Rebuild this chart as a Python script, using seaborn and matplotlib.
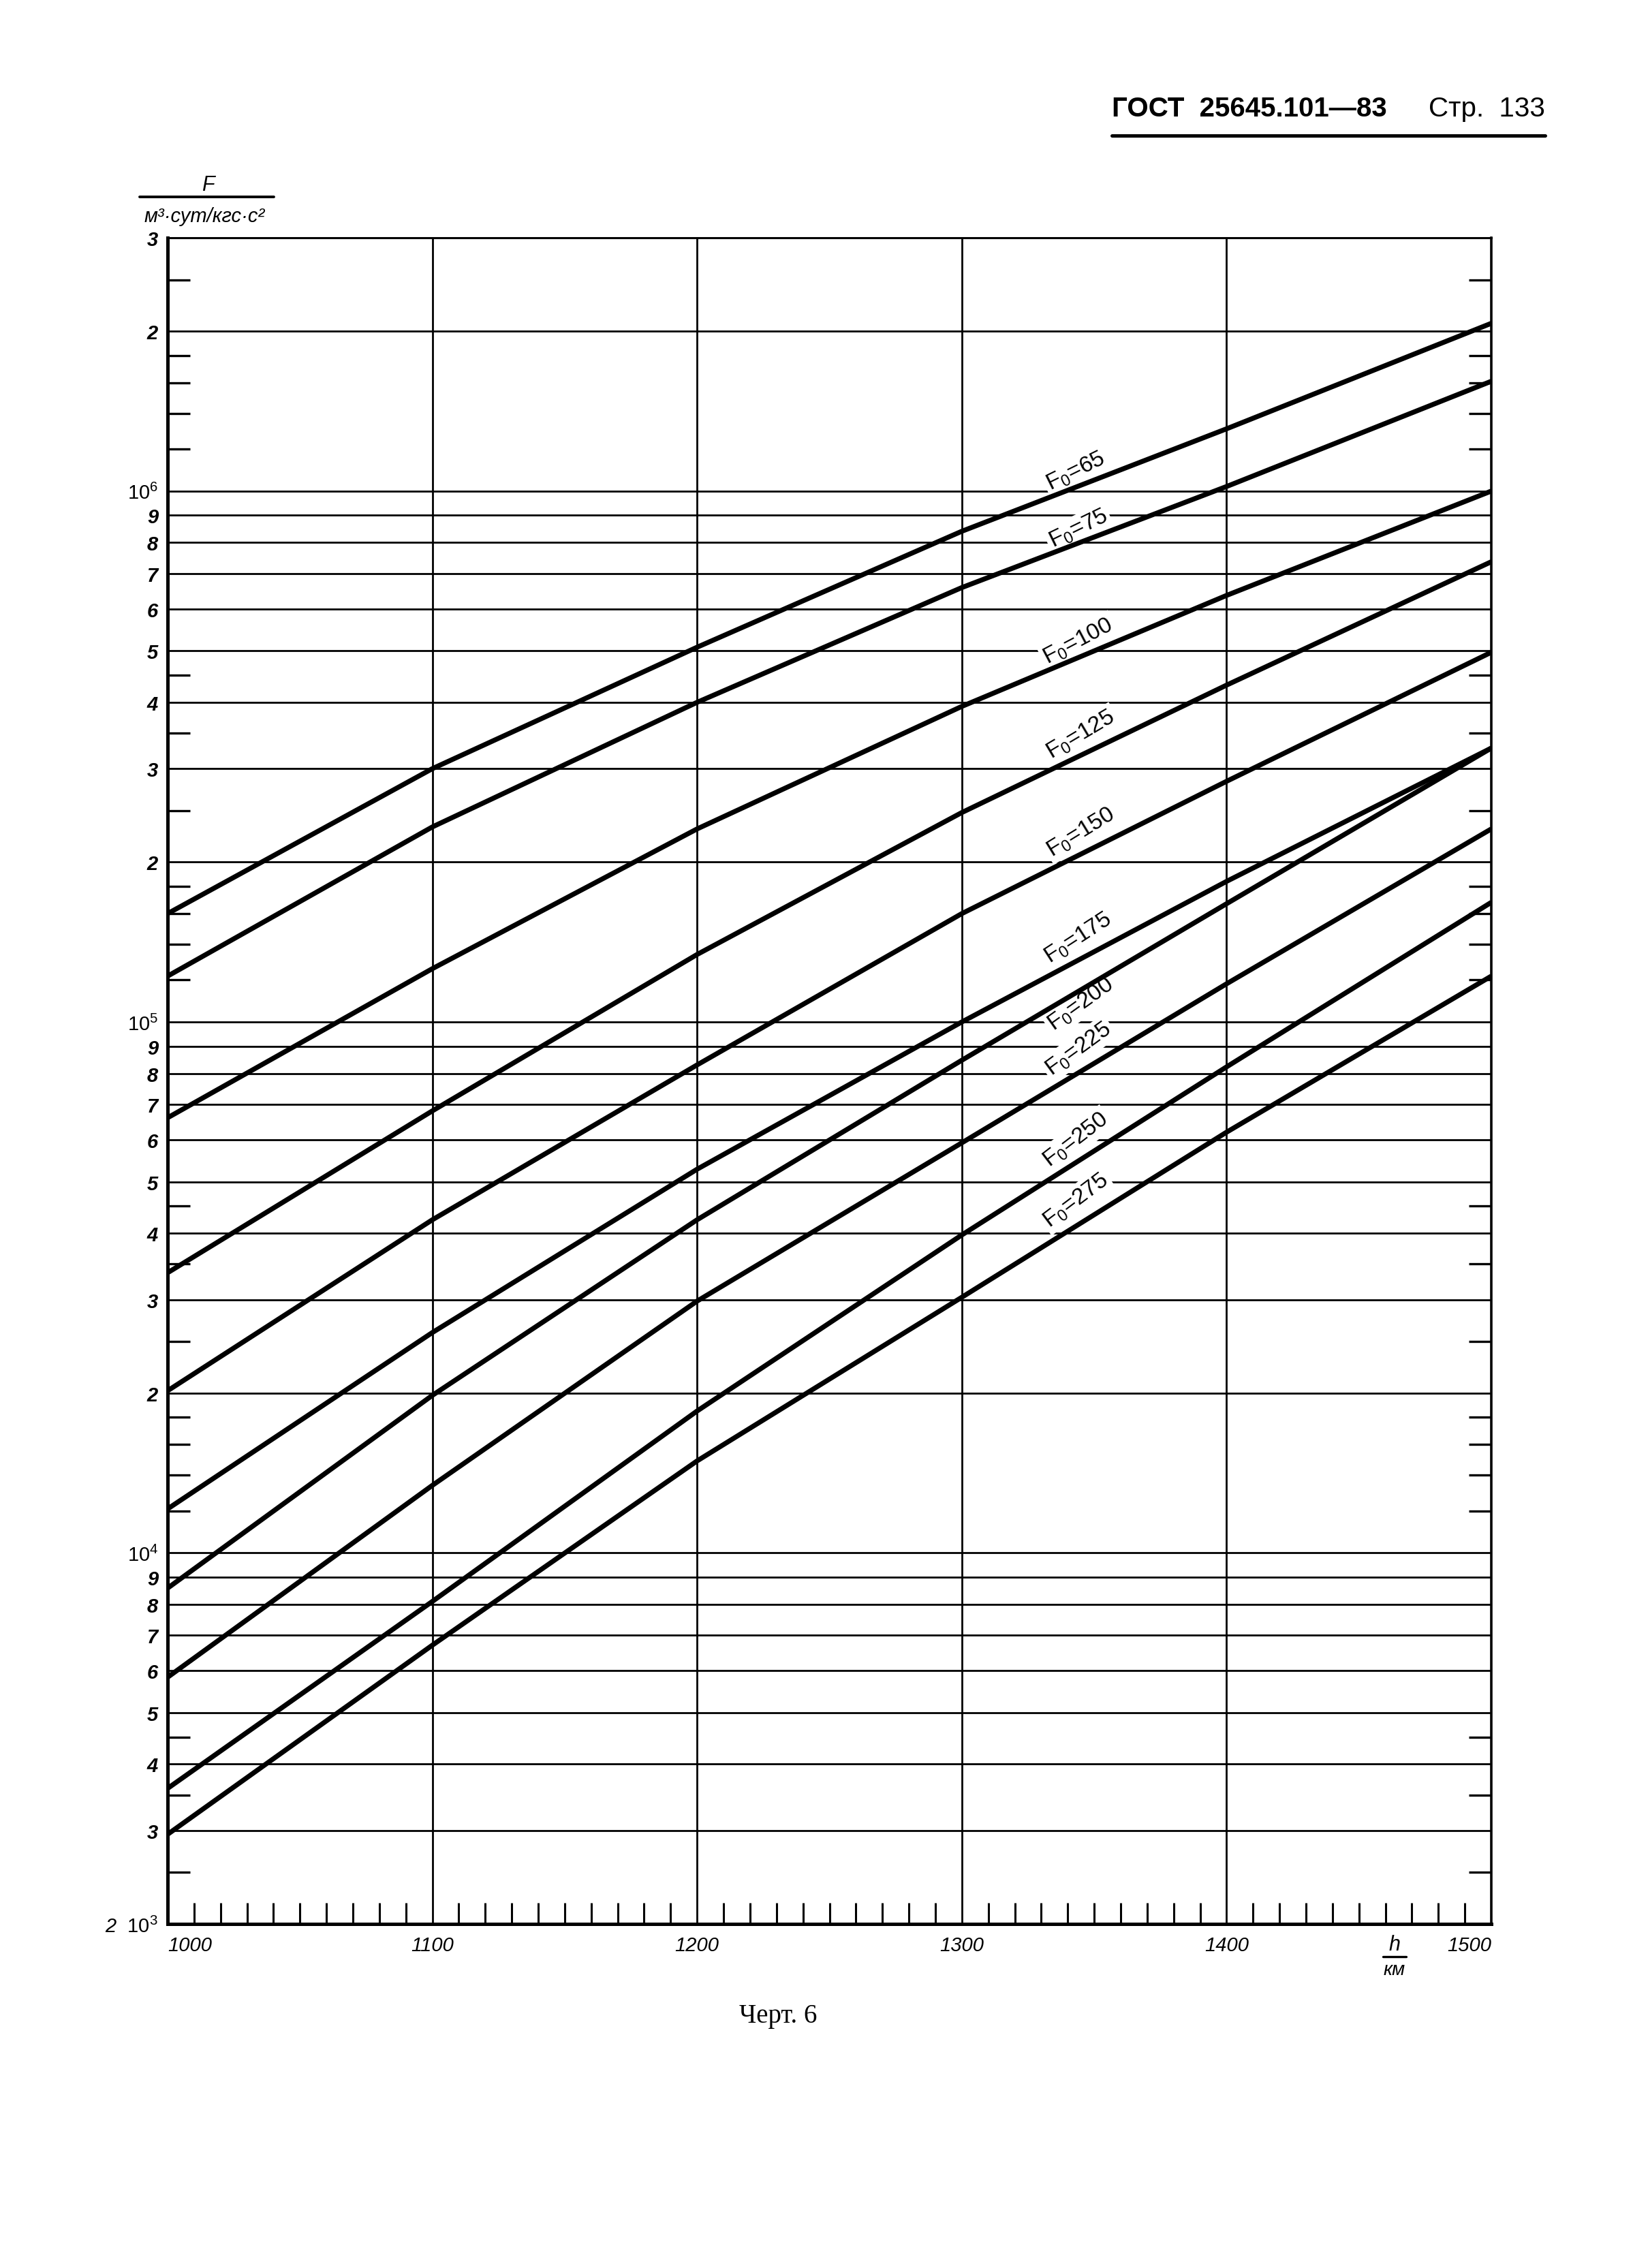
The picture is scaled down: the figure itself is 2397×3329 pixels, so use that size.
import numpy as np
import pandas as pd
import matplotlib
matplotlib.use("Agg")
import matplotlib.pyplot as plt
from matplotlib.lines import Line2D
import seaborn as sns

# ---------------- data ----------------
H_KM = [1000, 1100, 1200, 1300, 1400, 1500]
F0_VALUES = ["65", "75", "100", "125", "150", "175", "200", "225", "250", "275"]

F_65 = [1.60e5, 3.00e5, 5.08e5, 8.40e5, 1.31e6, 2.07e6]
F_75 = [1.22e5, 2.33e5, 4.00e5, 6.58e5, 1.02e6, 1.61e6]
F_100 = [6.60e4, 1.26e5, 2.31e5, 3.93e5, 6.36e5, 1.00e6]
F_125 = [3.37e4, 6.80e4, 1.34e5, 2.48e5, 4.31e5, 7.36e5]
F_150 = [2.02e4, 4.24e4, 8.30e4, 1.60e5, 2.84e5, 4.97e5]
F_175 = [1.21e4, 2.60e4, 5.28e4, 1.00e5, 1.84e5, 3.28e5]
F_200 = [8.58e3, 1.98e4, 4.24e4, 8.47e4, 1.67e5, 3.28e5]
F_225 = [5.83e3, 1.34e4, 2.98e4, 5.92e4, 1.18e5, 2.31e5]
F_250 = [3.60e3, 8.10e3, 1.85e4, 3.97e4, 8.23e4, 1.68e5]
F_275 = [2.95e3, 6.70e3, 1.49e4, 3.03e4, 6.20e4, 1.22e5]
SERIES = [F_65, F_75, F_100, F_125, F_150, F_175, F_200, F_225, F_250, F_275]

# curve label anchors (h, F)
LABEL_H = [1343, 1344, 1344, 1345, 1345, 1344, 1345, 1344, 1343, 1343]
LABEL_F = [1.09e6, 8.5e5, 5.22e5, 3.48e5, 2.28e5, 1.44e5, 1.08e5, 8.9e4, 6.0e4, 4.61e4]

Y_MAJOR = [2e3, 3e3, 4e3, 5e3, 6e3, 7e3, 8e3, 9e3,
           1e4, 2e4, 3e4, 4e4, 5e4, 6e4, 7e4, 8e4, 9e4,
           1e5, 2e5, 3e5, 4e5, 5e5, 6e5, 7e5, 8e5, 9e5,
           1e6, 2e6, 3e6]
Y_MAJOR_LABELS = ["2  $10^{3}$", "3", "4", "5", "6", "7", "8", "9",
                  "$10^{4}$", "2", "3", "4", "5", "6", "7", "8", "9",
                  "$10^{5}$", "2", "3", "4", "5", "6", "7", "8", "9",
                  "$10^{6}$", "2", "3"]
Y_MINOR = [2.5e3, 3.5e3, 4.5e3,
           1.2e4, 1.4e4, 1.6e4, 1.8e4, 2.5e4, 3.5e4, 4.5e4,
           1.2e5, 1.4e5, 1.6e5, 1.8e5, 2.5e5, 3.5e5, 4.5e5,
           1.2e6, 1.4e6, 1.6e6, 1.8e6, 2.5e6]
X_MAJOR = [1000, 1100, 1200, 1300, 1400, 1500]
X_LABELS = ["1000", "1100", "1200", "1300", "1400", "1500"]
X_MINOR = [h for h in range(1010, 1500, 10) if h % 100 != 0]

# ---------------- style ----------------
sns.set_style("white")
plt.rcParams["font.family"] = ["Liberation Sans", "DejaVu Sans"]
plt.rcParams["mathtext.fontset"] = "custom"
plt.rcParams["mathtext.rm"] = "Liberation Sans"
plt.rcParams["mathtext.it"] = "Liberation Sans:italic"
plt.rcParams["mathtext.bf"] = "Liberation Sans:bold"
plt.rcParams["mathtext.default"] = "it"
for k in ["text.color", "axes.labelcolor", "xtick.color", "ytick.color", "axes.edgecolor"]:
    plt.rcParams[k] = "black"

W, Hpx = 2397, 3330
DPI = 200
fig = plt.figure(figsize=(W / DPI, Hpx / DPI), dpi=DPI, facecolor="white")
ax = fig.add_axes([246 / W, 1 - 2825 / Hpx, (2189 - 246) / W, (2825 - 350) / Hpx])

ax.set_yscale("log")
ax.set_xlim(1000, 1500)
ax.set_ylim(2e3, 3e6)

rows = []
for lab, vals in zip(F0_VALUES, SERIES):
    for h, f in zip(H_KM, vals):
        rows.append((lab, h, f))
df = pd.DataFrame(rows, columns=["F0", "h", "F"])

sns.lineplot(data=df, x="h", y="F", hue="F0", hue_order=F0_VALUES,
             palette=["black"] * len(F0_VALUES), estimator=None, errorbar=None,
             legend=False, linewidth=2.6, zorder=4, ax=ax,
             solid_capstyle="butt", solid_joinstyle="round")
ax.set_xlabel("")
ax.set_ylabel("")
ax.set_xlim(1000, 1500)
ax.set_ylim(2e3, 3e6)

# ticks
ax.set_yticks(Y_MAJOR, labels=Y_MAJOR_LABELS)
ax.set_yticks(Y_MINOR, minor=True)
ax.yaxis.set_minor_formatter(matplotlib.ticker.NullFormatter())
ax.set_xticks(X_MAJOR, labels=X_LABELS)
ax.set_xticks(X_MINOR, minor=True)

ax.tick_params(axis="y", which="major", length=0, pad=5)
ax.tick_params(axis="y", which="minor", direction="in", length=12, width=1.2,
               left=True, right=True)
ax.tick_params(axis="x", which="major", length=0, pad=6)
ax.tick_params(axis="x", which="minor", direction="in", length=11, width=1.1,
               bottom=True, top=False)

for t in ax.get_yticklabels():
    t.set_fontsize(10.5)
    t.set_fontstyle("italic")
    if "$" not in t.get_text():
        t.set_fontweight("bold")
for t in ax.get_xticklabels():
    t.set_fontsize(10.5)
    t.set_fontstyle("italic")
xl = ax.get_xticklabels()
xl[0].set_horizontalalignment("left")
xl[-1].set_horizontalalignment("right")

ax.grid(True, which="major", axis="both", color="black", linewidth=1.0)
ax.set_axisbelow(True)

for side, lw in [("left", 1.8), ("bottom", 1.8), ("right", 1.3), ("top", 1.1)]:
    ax.spines[side].set_visible(True)
    ax.spines[side].set_color("black")
    ax.spines[side].set_linewidth(lw)

# curve labels
for lab, hx, fy, vals in zip(F0_VALUES, LABEL_H, LABEL_F, SERIES):
    i = int(np.searchsorted(H_KM, hx)) - 1
    p1 = ax.transData.transform((H_KM[i], vals[i]))
    p2 = ax.transData.transform((H_KM[i + 1], vals[i + 1]))
    ang = np.degrees(np.arctan2(p2[1] - p1[1], p2[0] - p1[0])) + 5
    ax.text(hx, fy, "F$_{\\mathrm{0}}$=" + lab, rotation=ang, rotation_mode="anchor",
            ha="center", va="center", fontsize=12, zorder=3,
            bbox=dict(boxstyle="square,pad=0.12", fc="white", ec="none"))

# axis titles
fig.text(305 / W, 1 - 272 / Hpx, "F", fontsize=11, style="italic", ha="center", va="center")
fig.add_artist(Line2D([205 / W, 402 / W], [1 - 290 / Hpx] * 2, color="black", lw=1.4,
                      transform=fig.transFigure))
fig.text(300 / W, 1 - 318 / Hpx, "м³·сут/кгс·с²", fontsize=10.5, style="italic",
         ha="center", va="center")

fig.text(2047 / W, 1 - 2855 / Hpx, "h", fontsize=11, style="italic", ha="center", va="center")
fig.add_artist(Line2D([2030 / W, 2064 / W], [1 - 2873 / Hpx] * 2, color="black", lw=1.2,
                      transform=fig.transFigure))
fig.text(2047 / W, 1 - 2892 / Hpx, "км", fontsize=10, style="italic", ha="center", va="center")

# page header and caption
fig.text(1632 / W, 1 - 160 / Hpx, "ГОСТ  25645.101—83", fontsize=14.5, fontweight="bold",
         ha="left", va="center")
fig.text(2268 / W, 1 - 160 / Hpx, "Стр.  133", fontsize=14.5, ha="right", va="center")
fig.add_artist(Line2D([1632 / W, 2268 / W], [1 - 200 / Hpx] * 2, color="black", lw=1.8,
                      transform=fig.transFigure))
fig.text(1142 / W, 1 - 2960 / Hpx, "Черт. 6", fontsize=14, family=["Liberation Serif", "DejaVu Serif"],
         ha="center", va="center")

fig.savefig("out.png", dpi=DPI, facecolor="white")
